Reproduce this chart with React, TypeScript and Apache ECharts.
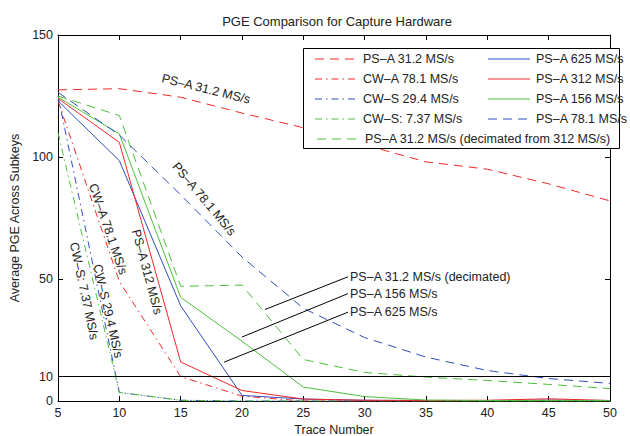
import React, { useEffect, useRef } from "react";
import * as echarts from "echarts";

const traces = [5, 10, 15, 20, 25, 30, 35, 40, 45, 50];
const psa31 = [127.5, 128, 124.5, 118, 112, 105, 98, 95, 89, 82];
const cwa78 = [123, 49, 10, 2, 0, 0, 0, 0, 0, 0];
const cws29 = [125, 3.5, 0.3, 0, 0, 0, 0, 0, 0, 0];
const cws7 = [110, 3.5, 0.3, 0, 0, 0, 0, 0, 0, 0];
const psa31dec = [125, 117, 47, 47.5, 17, 11.7, 9.8, 8.4, 6.8, 5.1];
const psa625 = [123, 98.5, 39, 2.3, 0.8, 0.3, 0.2, 0.2, 0.4, 0.2];
const psa312 = [124, 106, 16, 4.3, 0.8, 0.3, 0.2, 0.3, 0.9, 0.2];
const psa156 = [124.5, 109.5, 42.5, 24.5, 5.7, 1.8, 0.4, 0.2, 0.2, 0.2];
const psa78 = [126.5, 109, 84.5, 59, 38, 26, 18, 12.5, 9.2, 7.2];

const yTicks = [0, 10, 50, 100, 150];
const thresholdValue = 10;

// callout lines in data coordinates: [x1, y1, x2, y2]
const calloutLines = [
  [21.87, 37.5, 28.64, 50.9],
  [19.99, 26.2, 28.64, 44.0],
  [18.53, 15.9, 28.64, 36.4],
];

const RED = "#f02828";
const BLUE = "#2f4fc0";
const GREEN = "#4cc03a";
const DASH = [9, 6];
const DASHDOT = [7, 4, 1.5, 4];
const FONT = "Liberation Sans";
const TXT = "#222";

const seriesDefs = [
  { name: "PS–A 31.2 MS/s", data: psa31, color: RED, dash: DASH },
  { name: "CW–A 78.1 MS/s", data: cwa78, color: RED, dash: DASHDOT },
  { name: "CW–S 29.4 MS/s", data: cws29, color: BLUE, dash: DASHDOT },
  { name: "CW–S: 7.37 MS/s", data: cws7, color: GREEN, dash: DASHDOT },
  { name: "PS–A 31.2 MS/s (decimated from 312 MS/s)", data: psa31dec, color: GREEN, dash: DASH },
  { name: "PS–A 625 MS/s", data: psa625, color: BLUE, dash: null },
  { name: "PS–A 312 MS/s", data: psa312, color: RED, dash: null },
  { name: "PS–A 156 MS/s", data: psa156, color: GREEN, dash: null },
  { name: "PS–A 78.1 MS/s", data: psa78, color: BLUE, dash: DASH },
];

// legend layout: [seriesIndex, lineX1, lineX2, textX, y]
const legendLayout = [
  [0, 315, 357, 363, 59],
  [1, 315, 357, 363, 79],
  [2, 315, 357, 363, 99],
  [3, 315, 357, 363, 119],
  [5, 488, 530, 536, 59],
  [6, 488, 530, 536, 79],
  [7, 488, 530, 536, 99],
  [8, 488, 530, 536, 119],
  [4, 317, 358, 365, 139],
];

// in-plot labels: [text, x, y, rotationDeg]
const inPlotLabels: [string, number, number, number][] = [
  ["PS–A 31.2 MS/s", 206, 89, -14],
  ["PS–A 78.1 MS/s", 204, 199, -50],
  ["CW–A 78.1 MS/s", 108, 229, -71],
  ["PS–A 312 MS/s", 147, 272, -75],
  ["CW–S 29.4 MS/s", 108, 311, -77],
  ["CW–S: 7.37 MS/s", 84, 291, -78],
];

const calloutLabels: [string, number, number][] = [
  ["PS–A 31.2 MS/s (decimated)", 350, 277],
  ["PS–A 156 MS/s", 350, 294],
  ["PS–A 625 MS/s", 350, 312],
];

export default function App() {
  const ref = useRef<HTMLDivElement>(null);
  useEffect(() => {
    if (!ref.current) return;
    const chart = echarts.init(ref.current, null, { renderer: "svg" });

    const series: any[] = seriesDefs.map((s) => ({
      name: s.name,
      type: "line",
      data: traces.map((t, i) => [t, s.data[i]]),
      showSymbol: false,
      symbol: "none",
      lineStyle: { color: s.color, width: 1, type: s.dash ? s.dash : "solid" },
      itemStyle: { color: s.color },
      z: 3,
    }));

    series.push({
      name: "annotations",
      type: "line",
      data: [],
      markLine: {
        silent: true,
        symbol: ["none", "none"],
        label: { show: false },
        lineStyle: { color: "#000", width: 1, type: "solid" },
        data: [
          [{ xAxis: 5, yAxis: thresholdValue }, { xAxis: 50, yAxis: thresholdValue }],
          ...calloutLines.map((l) => [
            { coord: [l[0], l[1]] },
            { coord: [l[2], l[3]] },
          ]),
        ],
      },
      z: 4,
    });

    const graphic: any[] = [];
    graphic.push({
      type: "rect",
      shape: { x: 303.5, y: 48.5, width: 316, height: 100 },
      style: { fill: "#fff", stroke: "#000", lineWidth: 1 },
      z: 100,
    });
    legendLayout.forEach(([si, x1, x2, tx, y]) => {
      const s = seriesDefs[si];
      graphic.push({
        type: "line",
        shape: { x1, y1: y, x2, y2: y },
        style: { stroke: s.color, lineWidth: 1, lineDash: s.dash || null },
        z: 101,
      });
      graphic.push({
        type: "text",
        x: tx,
        y,
        style: {
          text: s.name,
          font: `12.5px "${FONT}"`,
          fill: TXT,
          textAlign: "left",
          textVerticalAlign: "middle",
        },
        z: 101,
      });
    });
    inPlotLabels.forEach(([t, x, y, r]) => {
      graphic.push({
        type: "text",
        x,
        y,
        rotation: (r * Math.PI) / 180,
        style: {
          text: t,
          font: `12.5px "${FONT}"`,
          fill: TXT,
          textAlign: "center",
          textVerticalAlign: "middle",
        },
        z: 50,
      });
    });
    calloutLabels.forEach(([t, x, y]) => {
      graphic.push({
        type: "text",
        x,
        y,
        style: {
          text: t,
          font: `12.5px "${FONT}"`,
          fill: TXT,
          textAlign: "left",
          textVerticalAlign: "middle",
        },
        z: 50,
      });
    });

    const axisCommon = {
      type: "value" as const,
      axisLine: { show: true, onZero: false, lineStyle: { color: "#000", width: 1 } },
      splitLine: { show: false },
    };

    chart.setOption({
      animation: false,
      backgroundColor: "#fff",
      textStyle: { fontFamily: FONT },
      title: {
        text: "PGE Comparison for Capture Hardware",
        left: 332,
        textAlign: "center",
        top: 10,
        textStyle: { fontFamily: FONT, fontSize: 13, fontWeight: "normal", color: TXT },
      },
      grid: {
        left: 58,
        right: 20,
        top: 35,
        bottom: 35,
        containLabel: false,
        outerBoundsMode: "none",
      },
      xAxis: [
        {
          ...axisCommon,
          position: "bottom",
          min: 5,
          max: 50,
          interval: 5,
          name: "Trace Number",
          nameLocation: "middle",
          nameGap: 22,
          nameTextStyle: { fontFamily: FONT, fontSize: 12.5, color: TXT },
          axisTick: { show: true, inside: true, length: 5, lineStyle: { color: "#000" } },
          axisLabel: { fontFamily: FONT, fontSize: 12.5, color: TXT, margin: 5 },
        },
        {
          ...axisCommon,
          position: "top",
          min: 5,
          max: 50,
          interval: 5,
          axisTick: { show: true, inside: true, length: 5, lineStyle: { color: "#000" } },
          axisLabel: { show: false },
        },
      ],
      yAxis: [
        {
          ...axisCommon,
          position: "left",
          min: 0,
          max: 150,
          name: "Average PGE Across Subkeys",
          nameLocation: "middle",
          nameGap: 30,
          nameTextStyle: { fontFamily: FONT, fontSize: 12.5, color: TXT },
          axisTick: {
            show: true,
            inside: true,
            length: 5,
            customValues: yTicks,
            lineStyle: { color: "#000" },
          },
          axisLabel: {
            fontFamily: FONT,
            fontSize: 12.5,
            color: TXT,
            margin: 5,
            customValues: yTicks,
          },
        },
        {
          ...axisCommon,
          position: "right",
          min: 0,
          max: 150,
          axisTick: {
            show: true,
            inside: true,
            length: 5,
            customValues: yTicks,
            lineStyle: { color: "#000" },
          },
          axisLabel: { show: false, customValues: yTicks },
        },
      ],
      series,
      graphic,
    });

    return () => chart.dispose();
  }, []);

  return (
    <div
      ref={ref}
      style={{ position: "absolute", left: 0, top: 0, width: 630, height: 436 }}
    />
  );
}
